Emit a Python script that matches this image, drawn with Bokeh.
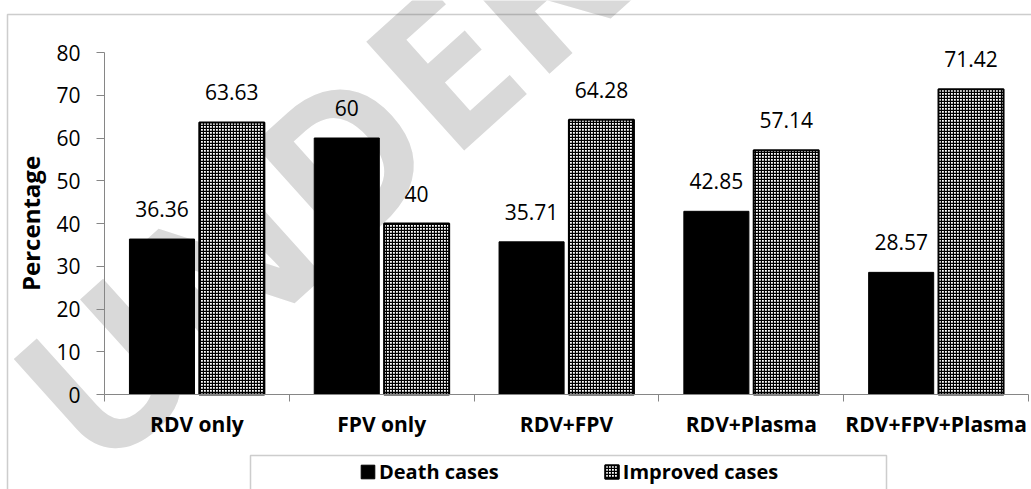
from bokeh.plotting import figure
from bokeh.models import (ColumnDataSource, Range1d, FixedTicker, LabelSet, Label,
                          Legend, LegendItem, BoxAnnotation)
from bokeh.core.properties import value
from bokeh.embed import file_html
from bokeh.resources import INLINE

categories = ["RDV only", "FPV only", "RDV+FPV", "RDV+Plasma", "RDV+FPV+Plasma"]
death_cases = [36.36, 60, 35.71, 42.85, 28.57]
improved_cases = [63.63, 40, 64.28, 57.14, 71.42]
series_names = ["Death cases", "Improved cases"]
y_ticks = [0, 10, 20, 30, 40, 50, 60, 70, 80]

FONT = "Open Sans"
W, H = 1031, 489
# layout (pixels): where the value axes sit on the canvas
X0_PX, GROUP_PX = 104.0, 184.8
Y0_PX, UNIT_PX = 394.0, 4.275


def px_to_x(px):
    return (px - X0_PX) / GROUP_PX


def px_to_y(py):
    return (Y0_PX - py) / UNIT_PX


DODGE = 0.189
BAR_W = 0.352

centers = [i + 0.5 for i in range(len(categories))]

src_d = ColumnDataSource(dict(x=[c - DODGE for c in centers], top=death_cases,
                              lbl=[f"{v:g}" for v in death_cases]))
src_i = ColumnDataSource(dict(x=[c + DODGE for c in centers], top=improved_cases,
                              lbl=[f"{v:g}" for v in improved_cases]))

p = figure(width=W, height=H, output_backend="svg", toolbar_location=None,
           x_range=Range1d(px_to_x(0), px_to_x(W)), y_range=Range1d(px_to_y(H), px_to_y(0)),
           min_border=0, min_border_left=0, min_border_right=0,
           min_border_top=0, min_border_bottom=0)
p.outline_line_color = None
p.grid.visible = False
p.background_fill_color = "white"
p.border_fill_color = "white"

# watermark (behind everything)
wm = Label(x=px_to_x(45), y=px_to_y(420), text="UNDER PEER REVIEW", angle=42, angle_units="deg",
           text_font=FONT, text_font_style="bold", text_font_size="205px", text_color="#d9d9d9",
           text_align="left", text_baseline="alphabetic", level="underlay")
p.add_layout(wm)

r_d = p.vbar(x="x", top="top", width=BAR_W, bottom=0, source=src_d,
             fill_color="black", line_color="black", line_width=1)
r_i = p.vbar(x="x", top="top", width=BAR_W, bottom=0, source=src_i,
             fill_color="white", line_color="black", line_width=2,
             hatch_pattern="cross", hatch_scale=3, hatch_weight=1.3, hatch_color="black")

for s in (src_d, src_i):
    ls = LabelSet(x="x", y="top", text="lbl", source=s, y_offset=22,
                  text_align="center", text_baseline="alphabetic",
                  text_font=value(FONT), text_font_size="21px", text_color="black")
    p.add_layout(ls)

# y axis, drawn at x = 0
ya = p.yaxis[0]
ya.fixed_location = 0
ya.bounds = (0, 80)
ya.ticker = FixedTicker(ticks=y_ticks)
ya.axis_line_color = "#868686"
ya.major_tick_line_color = "#868686"
ya.major_tick_out = 8
ya.major_tick_in = 0
ya.minor_tick_line_color = None
ya.major_label_standoff = 16
ya.major_label_text_font = FONT
ya.major_label_text_font_size = "21px"
ya.major_label_text_color = "black"
ya.axis_label = "Percentage"
ya.axis_label_text_font = FONT
ya.axis_label_text_font_style = "bold"
ya.axis_label_text_font_size = "24px"
ya.axis_label_text_color = "black"
ya.axis_label_standoff = 6

# x axis at y = 0: labels at group centres, separator ticks at group boundaries
xa = p.xaxis[0]
xa.fixed_location = 0
xa.bounds = (0, len(categories))
xa.ticker = FixedTicker(ticks=centers,
                        minor_ticks=[float(i) for i in range(len(categories) + 1)])
xa.major_label_overrides = {c: name for c, name in zip(centers, categories)}
xa.axis_line_color = "#868686"
xa.major_tick_line_color = None
xa.major_tick_out = 0
xa.major_tick_in = 0
xa.minor_tick_line_color = "#868686"
xa.minor_tick_out = 7
xa.minor_tick_in = 0
xa.major_label_standoff = 8
xa.major_label_text_font = FONT
xa.major_label_text_font_style = "bold"
xa.major_label_text_font_size = "21px"
xa.major_label_text_color = "black"

# outer chart border and legend box
outer = BoxAnnotation(left=px_to_x(7), right=px_to_x(W + 20), top=px_to_y(14), bottom=px_to_y(H + 20),
                      fill_alpha=0, line_color="#595959", line_width=1.5)
legbox = BoxAnnotation(left=px_to_x(250), right=px_to_x(886), top=px_to_y(455), bottom=px_to_y(H + 20),
                       fill_alpha=0, line_color="#595959", line_width=1.5)
p.add_layout(outer)
p.add_layout(legbox)

legend = Legend(items=[LegendItem(label=series_names[0], renderers=[r_d]),
                       LegendItem(label=series_names[1], renderers=[r_i])],
                orientation="horizontal", location=(359, 4),
                glyph_width=17, glyph_height=17, label_standoff=3, spacing=104,
                padding=0, margin=0, border_line_alpha=0, background_fill_alpha=0,
                label_text_font=FONT, label_text_font_style="bold",
                label_text_font_size="20px", label_text_color="black")
p.add_layout(legend)

open("out.html", "w").write(file_html(p, INLINE))
